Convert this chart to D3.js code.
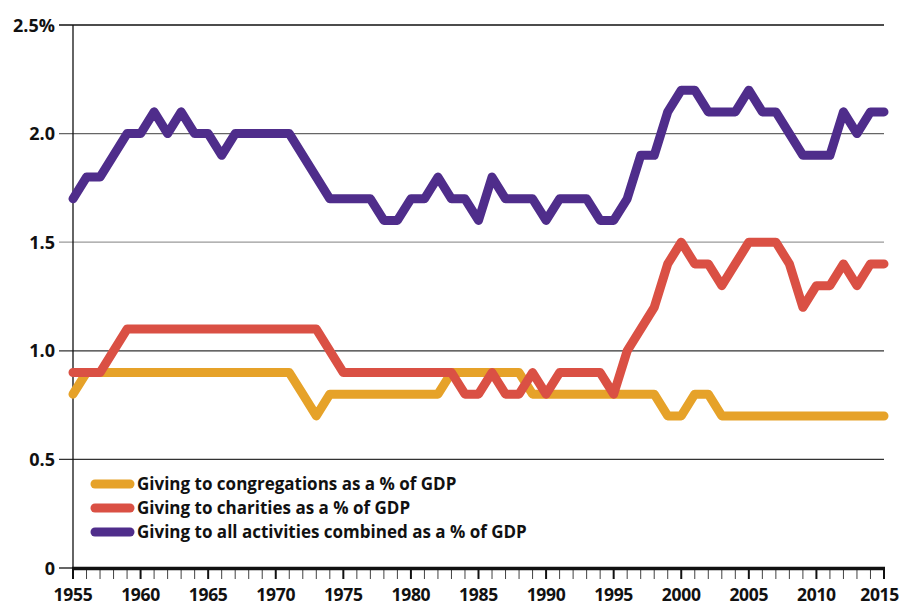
<!DOCTYPE html>
<html>
<head>
<meta charset="utf-8">
<script src="https://cdn.jsdelivr.net/npm/d3@7"></script>
<style>
  body { margin: 0; background: #fff; }
  svg { display: block; }
  text { font-family: "Open Sans", Roboto, sans-serif; font-weight: bold; fill: #111; }
</style>
</head>
<body>
<div id="chart"></div>
<script>
// Data
const years = d3.range(1955, 2016);
const congregations = [
  0.8, 0.9, 0.9, 0.9, 0.9, 0.9, 0.9, 0.9, 0.9, 0.9,
  0.9, 0.9, 0.9, 0.9, 0.9, 0.9, 0.9, 0.8, 0.7, 0.8,
  0.8, 0.8, 0.8, 0.8, 0.8, 0.8, 0.8, 0.8, 0.9, 0.9,
  0.9, 0.9, 0.9, 0.9, 0.8, 0.8, 0.8, 0.8, 0.8, 0.8,
  0.8, 0.8, 0.8, 0.8, 0.7, 0.7, 0.8, 0.8, 0.7, 0.7,
  0.7, 0.7, 0.7, 0.7, 0.7, 0.7, 0.7, 0.7, 0.7, 0.7,
  0.7
];
const charities = [
  0.9, 0.9, 0.9, 1.0, 1.1, 1.1, 1.1, 1.1, 1.1, 1.1,
  1.1, 1.1, 1.1, 1.1, 1.1, 1.1, 1.1, 1.1, 1.1, 1.0,
  0.9, 0.9, 0.9, 0.9, 0.9, 0.9, 0.9, 0.9, 0.9, 0.8,
  0.8, 0.9, 0.8, 0.8, 0.9, 0.8, 0.9, 0.9, 0.9, 0.9,
  0.8, 1.0, 1.1, 1.2, 1.4, 1.5, 1.4, 1.4, 1.3, 1.4,
  1.5, 1.5, 1.5, 1.4, 1.2, 1.3, 1.3, 1.4, 1.3, 1.4,
  1.4
];
const combined = [
  1.7, 1.8, 1.8, 1.9, 2.0, 2.0, 2.1, 2.0, 2.1, 2.0,
  2.0, 1.9, 2.0, 2.0, 2.0, 2.0, 2.0, 1.9, 1.8, 1.7,
  1.7, 1.7, 1.7, 1.6, 1.6, 1.7, 1.7, 1.8, 1.7, 1.7,
  1.6, 1.8, 1.7, 1.7, 1.7, 1.6, 1.7, 1.7, 1.7, 1.6,
  1.6, 1.7, 1.9, 1.9, 2.1, 2.2, 2.2, 2.1, 2.1, 2.1,
  2.2, 2.1, 2.1, 2.0, 1.9, 1.9, 1.9, 2.1, 2.0, 2.1,
  2.1
];
const yTicks = [0, 0.5, 1.0, 1.5, 2.0, 2.5];
const xTickLabels = d3.range(1955, 2016, 5);
const seriesNames = [
  "Giving to congregations as a % of GDP",
  "Giving to charities as a % of GDP",
  "Giving to all activities combined as a % of GDP"
];
const colors = ["#e6a229", "#da5044", "#4f2d8b"];

const W = 901, H = 605;
const svg = d3.select("#chart").append("svg")
  .attr("width", W)
  .attr("height", H);

const x = d3.scaleLinear().domain([1955, 2015]).range([73, 884]);
const y = d3.scaleLinear().domain([0, 2.5]).range([568, 25]);

// gridlines
const gridColor = {0.5: "#333", 1: "#333", 1.5: "#9a9a9a", 2: "#666", 2.5: "#111"};
svg.append("g").selectAll("line")
  .data(yTicks.filter(d => d > 0))
  .join("line")
  .attr("x1", 59).attr("x2", 884)
  .attr("y1", d => y(d)).attr("y2", d => y(d))
  .attr("stroke", d => gridColor[d])
  .attr("stroke-width", 1.3);

// y axis line
svg.append("line")
  .attr("x1", x(1955)).attr("x2", x(1955))
  .attr("y1", y(2.5)).attr("y2", y(0))
  .attr("stroke", "#111").attr("stroke-width", 1.3);

// zero tick
svg.append("line")
  .attr("x1", 59).attr("x2", x(1955))
  .attr("y1", y(0)).attr("y2", y(0))
  .attr("stroke", "#111").attr("stroke-width", 1.3);

// y labels
svg.append("g").selectAll("text")
  .data(yTicks)
  .join("text")
  .attr("x", 55)
  .attr("y", d => y(d) + 6.5)
  .attr("text-anchor", "end")
  .style("font-size", "18px")
  .text(d => d === 0 ? "0" : d === 2.5 ? "2.5%" : d.toFixed(1));

// x axis: year ticks
svg.append("g").selectAll("line")
  .data(years)
  .join("line")
  .attr("x1", d => x(d)).attr("x2", d => x(d))
  .attr("y1", 568).attr("y2", 579)
  .attr("stroke", "#111")
  .attr("stroke-width", d => d % 5 === 0 ? 2 : 0.8);

svg.append("line")
  .attr("x1", x(1955) - 1).attr("x2", x(2015) + 1)
  .attr("y1", 568.5).attr("y2", 568.5)
  .attr("stroke", "#111").attr("stroke-width", 3.5);

// last label is kept inside the right edge
svg.append("g").selectAll("text")
  .data(xTickLabels)
  .join("text")
  .attr("x", d => d === 2015 ? W - 2 : x(d))
  .attr("y", 601)
  .attr("text-anchor", d => d === 2015 ? "end" : "middle")
  .style("font-size", "17.5px")
  .style("letter-spacing", "-0.3px")
  .text(d => d);

// lines
const line = d3.line()
  .x((d, i) => x(years[i]))
  .y(d => y(d));

[congregations, charities, combined].forEach((vals, k) => {
  svg.append("path")
    .datum(vals)
    .attr("d", line)
    .attr("fill", "none")
    .attr("stroke", colors[k])
    .attr("stroke-width", 9)
    .attr("stroke-linejoin", "round")
    .attr("stroke-linecap", "round");
});

// legend
const legend = svg.append("g");
seriesNames.forEach((name, i) => {
  const ly = 484 + i * 24;
  legend.append("line")
    .attr("x1", 95).attr("x2", 130)
    .attr("y1", ly).attr("y2", ly)
    .attr("stroke", colors[i])
    .attr("stroke-width", 9)
    .attr("stroke-linecap", "round");
  legend.append("text")
    .attr("x", 137)
    .attr("y", ly + 6)
    .style("font-size", "17px")
    .text(name);
});
</script>
</body>
</html>
